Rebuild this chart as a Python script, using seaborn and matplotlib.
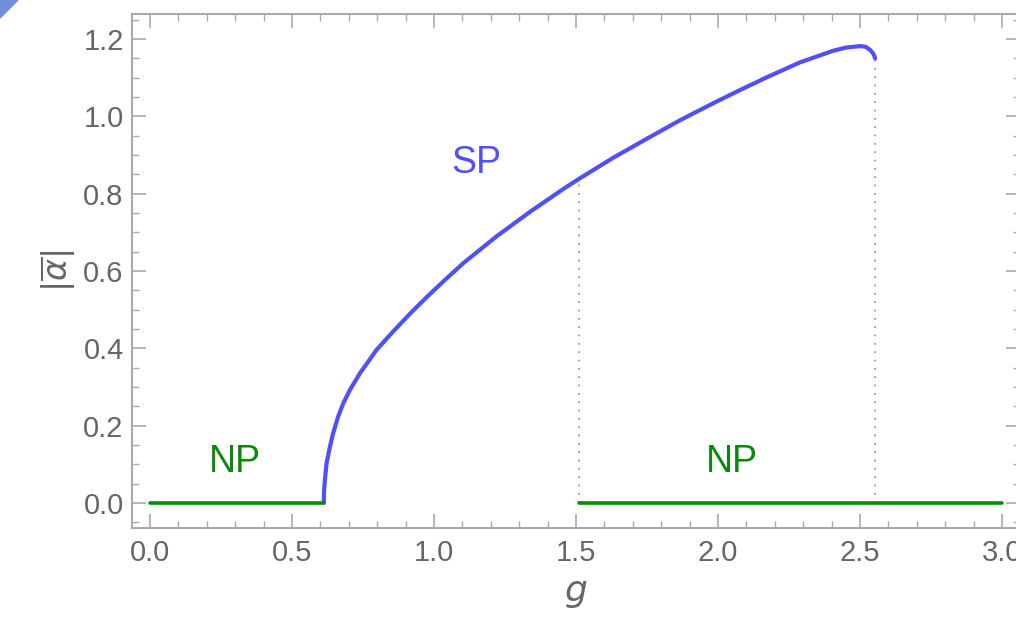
import numpy as np
import pandas as pd
import matplotlib
matplotlib.use("Agg")
import matplotlib.pyplot as plt
from matplotlib.patches import Polygon
from matplotlib.ticker import MultipleLocator, FormatStrFormatter
import seaborn as sns

# superradiant-phase branch |alpha| vs g
sp_g = [0.612, 0.613, 0.616, 0.622, 0.634, 0.645, 0.663, 0.681, 0.704, 0.739,
        0.798, 0.857, 0.915, 0.974, 1.033, 1.103, 1.221, 1.338, 1.455, 1.514,
        1.631, 1.749, 1.866, 1.983, 2.077, 2.171, 2.289, 2.406, 2.45, 2.5,
        2.52, 2.535, 2.545, 2.55, 2.553]
sp_y = [0.0, 0.03, 0.059, 0.103, 0.146, 0.180, 0.224, 0.258, 0.292, 0.335,
        0.396, 0.444, 0.489, 0.532, 0.573, 0.620, 0.690, 0.753, 0.812, 0.840,
        0.893, 0.942, 0.990, 1.034, 1.068, 1.101, 1.140, 1.170, 1.178, 1.182,
        1.180, 1.172, 1.164, 1.157, 1.150]

# normal-phase segments
np1_g = [0.0, 0.612]
np1_y = [0.0, 0.0]
np2_g = [1.509, 3.0]
np2_y = [0.0, 0.0]

# dotted markers at the branch edges
vline_g = [1.509, 2.553]
vline_top = [0.838, 1.150]

sns.set_style("ticks")
plt.rcParams["font.family"] = ["Liberation Sans", "DejaVu Sans"]
plt.rcParams["mathtext.fontset"] = "dejavusans"

blue = "#5050fa"
green = "#0a8a0a"
grey = "#666666"
frame = "#aaaaaa"

fig = plt.figure(figsize=(10.16, 6.30), dpi=100)
ax = fig.add_axes([132 / 1016, 102 / 630, (1020 - 132) / 1016, (616 - 102) / 630])

sp = pd.DataFrame({"g": sp_g, "a": sp_y})
sns.lineplot(data=sp, x="g", y="a", ax=ax, color=blue, lw=3.0, sort=False,
             estimator=None, solid_joinstyle="round", solid_capstyle="round")
for gg, yy in [(np1_g, np1_y), (np2_g, np2_y)]:
    sns.lineplot(x=gg, y=yy, ax=ax, color=green, lw=2.6, estimator=None)

for gx, top in zip(vline_g, vline_top):
    ax.plot([gx, gx], [0, top], color="#888888", lw=1.2, ls=(0, (1, 4)), zorder=1)

ax.text(0.3, 0.105, "NP", color=green, fontsize=27, ha="center", va="center")
ax.text(2.05, 0.105, "NP", color=green, fontsize=27, ha="center", va="center")
ax.text(1.15, 0.88, "SP", color=blue, fontsize=27, ha="center", va="center")

ax.set_xlim(-0.063, 3.063)
ax.set_ylim(-0.065, 1.265)
ax.xaxis.set_major_locator(MultipleLocator(0.5))
ax.xaxis.set_minor_locator(MultipleLocator(0.1))
ax.yaxis.set_major_locator(MultipleLocator(0.2))
ax.yaxis.set_minor_locator(MultipleLocator(0.05))
ax.xaxis.set_major_formatter(FormatStrFormatter("%.1f"))
ax.yaxis.set_major_formatter(FormatStrFormatter("%.1f"))

ax.tick_params(which="both", direction="in", top=True, right=True,
               color=frame, labelcolor=grey, labelsize=21)
ax.tick_params(which="major", length=10, width=1.2)
ax.tick_params(which="minor", length=5, width=1.0)
ax.tick_params(axis="x", pad=8)
ax.tick_params(axis="y", pad=6)
for s in ax.spines.values():
    s.set_color(frame)
    s.set_linewidth(1.5)

ax.set_xlabel("$g$", fontsize=26, color=grey, labelpad=6)
ax.set_ylabel(r"$|\overline{\alpha}|$", fontsize=24, color=grey, labelpad=4)

# corner artefact in the reference screenshot
fig.patches.append(Polygon([[0, 1], [18 / 1016, 1], [0, 1 - 18 / 630]],
                           closed=True, transform=fig.transFigure,
                           color="#7090d8", zorder=0))

fig.savefig("out.png", dpi=100)
